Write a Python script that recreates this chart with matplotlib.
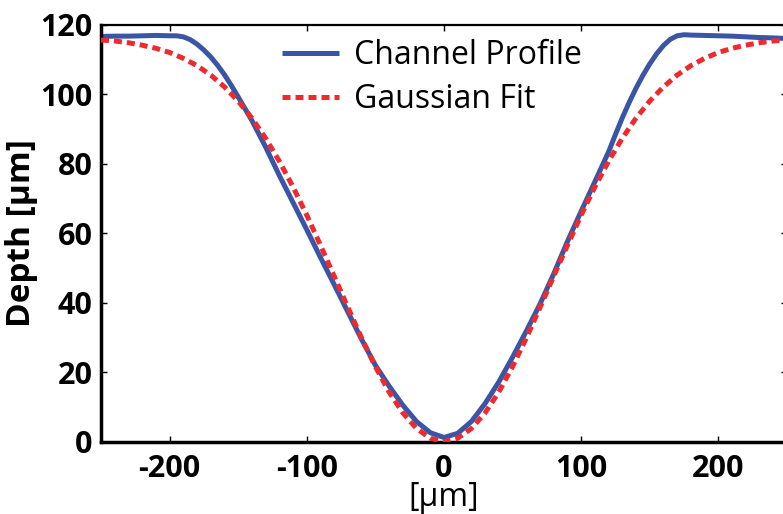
"""
Профиль канала и гауссова аппроксимация
"""
import matplotlib
matplotlib.use("Agg")
import matplotlib.pyplot as plt

# Измеренный профиль (синяя линия): координата, мкм -> глубина, мкм
profile_x = [-250, -240, -230, -220, -210, -200, -195, -190, -185, -180,
             -175, -170, -165, -160, -155, -150, -140, -130, -120, -110,
             -100, -90, -80, -70, -60, -50, -40, -30, -20, -10,
             0, 10, 20, 30, 40, 50, 60, 70, 80, 90,
             100, 110, 120, 125, 130, 135, 140, 145, 150, 155,
             160, 165, 170, 175, 180, 190, 200, 210, 220, 230, 240, 250]
profile_depth = [116.6, 116.7, 116.7, 116.8, 116.9, 116.8, 116.8, 116.5, 115.7, 114.4,
                 112.7, 110.7, 108.3, 105.6, 102.5, 99.2, 92.4, 84.8, 76.6, 68.8,
                 61.0, 53.0, 45.2, 37.3, 29.4, 22.0, 16.0, 10.5, 5.8, 2.6,
                 1.2, 2.4, 5.8, 11.0, 17.2, 24.3, 31.8, 39.6, 48.3, 57.6,
                 66.3, 74.8, 83.4, 88.4, 93.2, 97.6, 101.7, 105.4, 108.7, 111.6,
                 114.0, 115.8, 116.8, 117.1, 117.0, 116.9, 116.8, 116.7, 116.5, 116.3, 116.2, 116.0]

# Гауссова аппроксимация (красный пунктир)
fit_x = [-250, -240, -230, -220, -210, -200, -190, -180, -170, -160,
         -150, -140, -130, -120, -110, -100, -90, -80, -70, -60,
         -50, -40, -30, -20, -10, 0, 10, 20, 30, 40,
         50, 60, 70, 80, 90, 100, 110, 120, 130, 140,
         150, 160, 170, 180, 190, 200, 210, 220, 230, 240, 250]
fit_depth = [115.6, 115.3, 114.8, 114.1, 113.2, 112.0, 110.3, 108.2, 105.5, 102.1,
             98.0, 93.1, 87.3, 80.7, 73.3, 65.2, 56.5, 47.6, 38.6, 29.8,
             21.6, 14.3, 8.3, 3.8, 1.0, 0.0, 1.0, 3.8, 8.3, 14.3,
             21.6, 29.8, 38.6, 47.6, 56.5, 65.2, 73.3, 80.7, 87.3, 93.1,
             98.0, 102.1, 105.5, 108.2, 110.3, 112.0, 113.2, 114.1, 114.8, 115.3, 115.6]

x_ticks = [-200, -100, 0, 100, 200]
y_ticks = [0, 20, 40, 60, 80, 100, 120]

FONT = ["Open Sans", "DejaVu Sans"]
BLUE = "#3b55a6"
RED = "#ee2a2f"

plt.rcParams["axes.unicode_minus"] = False

fig = plt.figure(figsize=(7.83, 5.14), dpi=100)
ax = fig.add_axes([0.129, 0.1407, 1.005 - 0.129, 0.952 - 0.1407])

ax.plot(profile_x, profile_depth, color=BLUE, linewidth=3.6,
        solid_capstyle="butt", solid_joinstyle="round",
        label="Channel Profile", zorder=2)
ax.plot(fit_x, fit_depth, color=RED, linewidth=3.6,
        linestyle=(0, (1.6, 1.0)), dash_capstyle="butt",
        label="Gaussian Fit", zorder=3)

ax.set_xlim(-250, 250)
ax.set_ylim(0, 120)
ax.set_xticks(x_ticks)
ax.set_yticks(y_ticks)

ax.tick_params(axis="both", direction="in", length=4.5, width=1,
               top=True, right=True)
ax.tick_params(axis="x", pad=9)
ax.tick_params(axis="y", pad=6)
for lab in ax.get_xticklabels() + ax.get_yticklabels():
    lab.set_family(FONT)
    lab.set_fontweight("bold")
    lab.set_fontsize(22)

ax.spines["left"].set_linewidth(2.5)
ax.spines["bottom"].set_linewidth(2.5)
ax.spines["top"].set_linewidth(1.6)
ax.spines["right"].set_linewidth(1.6)

ax.set_ylabel("Depth [μm]", family=FONT, fontweight="bold", fontsize=24, labelpad=2)
ax.set_xlabel("[μm]", family=FONT, fontsize=23, labelpad=-2)

leg = ax.legend(loc="upper center", bbox_to_anchor=(0.482, 1.035), frameon=False,
                prop={"family": FONT, "size": 23}, handlelength=1.8,
                handletextpad=0.45, labelspacing=0.36)

fig.savefig("out.png", dpi=100)
